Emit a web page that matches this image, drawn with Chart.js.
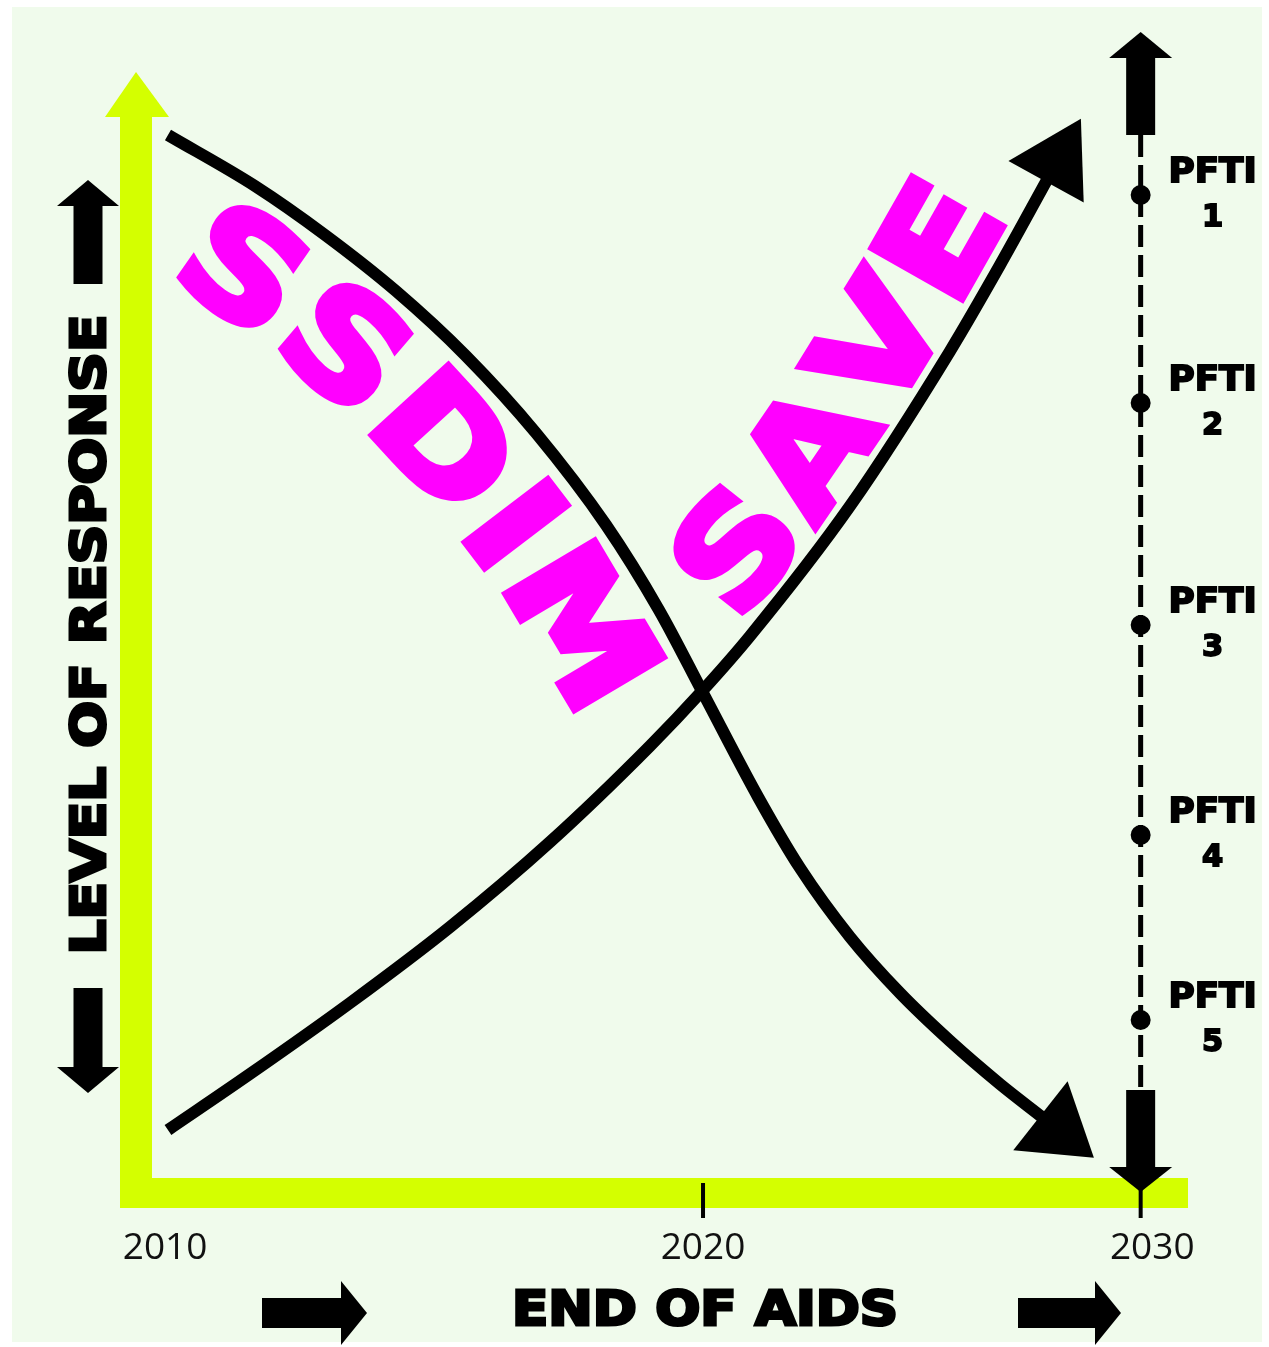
<!DOCTYPE html>
<html>
<head>
<meta charset="utf-8">
<script src="https://cdn.jsdelivr.net/npm/chart.js@4"></script>
<style>
html, body { margin: 0; padding: 0; background: #fff; }
#wrap { width: 1269px; height: 1347px; }
</style>
</head>
<body>
<div id="wrap"><canvas id="chart"></canvas></div>
<script>
// x = position along the timeline (0-100), y = level of response (0-100)
const xTickPos = [2.76, 53.9, 96.6];
const xTickLabels = ['2010', '2020', '2030'];

const ssdimX = [3.04, 11.31, 17.97, 24.71, 31.37, 38.02, 44.68, 49.71, 53.90, 59.13, 63.12, 67.87, 72.62, 77.38, 82.13, 86.12];
const ssdimY = [94.38, 89.83, 85.46, 80.46, 74.67, 67.80, 59.59, 52.01, 44.60, 35.33, 28.99, 22.84, 17.84, 13.56, 9.72, 6.78];

const saveX = [3.04, 10.84, 20.34, 29.85, 39.35, 48.86, 53.90, 58.37, 67.87, 77.38, 82.13, 86.60];
const saveY = [5.62, 10.62, 16.95, 23.73, 31.31, 39.88, 44.87, 49.69, 61.28, 75.11, 82.78, 90.37];

const pftiX = 95.5;
const pftiY = [89.03, 70.47, 50.67, 31.94, 15.43];
const pftiNames = ['1', '2', '3', '4', '5'];

const GREEN = '#d4ff00';
const MAGENTA = '#ff00ff';
const INK = '#000';

function tri(ctx, p) {
  ctx.beginPath();
  ctx.moveTo(p[0], p[1]); ctx.lineTo(p[2], p[3]); ctx.lineTo(p[4], p[5]);
  ctx.closePath(); ctx.fill();
}
// block arrow pointing up or down
function vArrow(ctx, cx, y0, y1, bw, hw, hl) {
  const dir = Math.sign(y1 - y0);
  const yb = y1 - dir * hl;
  ctx.fillRect(cx - bw, Math.min(y0, yb + dir), 2 * bw, Math.abs(yb - y0) + 1);
  tri(ctx, [cx - hw, yb, cx + hw, yb, cx, y1]);
}
// block arrow pointing right
function hArrow(ctx, cy, x0, x1, bh, hh, hl) {
  const xb = x1 - hl;
  ctx.fillRect(x0, cy - bh, xb - x0 + 1, 2 * bh);
  tri(ctx, [xb, cy - hh, xb, cy + hh, x1, cy]);
}
// heavy text stretched to a given width, centred on cx,cy
function fitText(ctx, str, cx, cy, width, cap, angle, weight) {
  const lw = weight || 0;
  const size = (cap - lw) / 0.729;
  ctx.save();
  ctx.font = 'bold ' + size + 'px "DejaVu Sans"';
  const w = ctx.measureText(str).width;
  ctx.translate(cx, cy);
  ctx.rotate(angle || 0);
  if (width) ctx.scale((width - lw) / w, 1);
  ctx.textAlign = 'center';
  ctx.textBaseline = 'alphabetic';
  ctx.fillText(str, 0, (cap - lw) / 2);
  if (lw) {
    ctx.lineWidth = lw;
    ctx.lineJoin = 'miter';
    ctx.miterLimit = 2;
    ctx.strokeStyle = ctx.fillStyle;
    ctx.strokeText(str, 0, (cap - lw) / 2);
  }
  ctx.restore();
}

function sampleCurve(pts) {
  const out = [];
  for (let i = 0; i < pts.length - 1; i++) {
    const p0 = pts[i], p1 = pts[i + 1];
    const c1x = p0.cp2x ?? p0.x, c1y = p0.cp2y ?? p0.y;
    const c2x = p1.cp1x ?? p1.x, c2y = p1.cp1y ?? p1.y;
    for (let k = 0; k < 24; k++) {
      const t = k / 24, u = 1 - t;
      out.push({
        x: u*u*u*p0.x + 3*u*u*t*c1x + 3*u*t*t*c2x + t*t*t*p1.x,
        y: u*u*u*p0.y + 3*u*u*t*c1y + 3*u*t*t*c2y + t*t*t*p1.y
      });
    }
  }
  const l = pts[pts.length - 1];
  out.push({x: l.x, y: l.y});
  return out;
}

// letters set along a curve, offset to one side of it
function wordOnCurve(ctx, pts, word, o) {
  const c = sampleCurve(pts);
  const path = [];
  for (let i = 0; i < c.length; i++) {
    const a = c[Math.max(0, i - 1)], b = c[Math.min(c.length - 1, i + 1)];
    const ang = Math.atan2(b.y - a.y, b.x - a.x);
    path.push({
      x: c[i].x - o.side * o.offset * Math.sin(ang),
      y: c[i].y + o.side * o.offset * Math.cos(ang),
      ang: ang
    });
  }
  const s = [0];
  for (let i = 1; i < path.length; i++) {
    s.push(s[i - 1] + Math.hypot(path[i].x - path[i - 1].x, path[i].y - path[i - 1].y));
  }
  ctx.save();
  ctx.font = 'bold ' + o.size + 'px "DejaVu Sans"';
  ctx.fillStyle = o.color;
  ctx.strokeStyle = o.color;
  ctx.lineWidth = o.weight;
  ctx.lineJoin = 'miter';
  ctx.miterLimit = 2;
  ctx.textAlign = 'center';
  ctx.textBaseline = 'alphabetic';
  const cap = o.size * 0.729;
  let cur = o.start;
  for (const ch of word) {
    const w = ctx.measureText(ch).width * o.stretch;
    const sc = cur + w / 2;
    let j = 1;
    while (j < s.length - 1 && s[j] < sc) j++;
    const f = (sc - s[j - 1]) / ((s[j] - s[j - 1]) || 1);
    const p = path[j - 1], q = path[j];
    ctx.save();
    ctx.translate(p.x + f * (q.x - p.x), p.y + f * (q.y - p.y));
    ctx.rotate(p.ang + f * (q.ang - p.ang));
    ctx.scale(o.stretch, 1);
    ctx.fillText(ch, 0, cap / 2);
    ctx.strokeText(ch, 0, cap / 2);
    ctx.restore();
    cur += w + o.spacing;
  }
  ctx.restore();
}

function arrowHead(ctx, pts, len, half) {
  const l = pts[pts.length - 1];
  let bx = l.cp1x ?? pts[pts.length - 2].x, by = l.cp1y ?? pts[pts.length - 2].y;
  let dx = l.x - bx, dy = l.y - by;
  const d = Math.hypot(dx, dy); dx /= d; dy /= d;
  const x0 = l.x - 2 * dx, y0 = l.y - 2 * dy;
  ctx.fillStyle = INK;
  tri(ctx, [x0 - half * dy, y0 + half * dx, x0 + half * dy, y0 - half * dx, l.x + len * dx, l.y + len * dy]);
}

const decor = {
  id: 'decor',
  beforeDraw(chart) {
    const ctx = chart.ctx;
    ctx.save();
    ctx.fillStyle = '#fff';
    ctx.fillRect(0, 0, chart.width, chart.height);
    ctx.fillStyle = '#f0fbec';
    ctx.fillRect(12, 7, chart.width - 19, chart.height - 12);
    ctx.restore();
  },
  beforeDatasetsDraw(chart) {
    const {ctx, chartArea: a, scales: {x, y}} = chart;
    ctx.save();
    // axes
    ctx.fillStyle = GREEN;
    ctx.fillRect(a.left - 16, a.top + 44, 32, a.bottom + 15 - (a.top + 44));
    tri(ctx, [a.left - 31, a.top + 45, a.left + 33, a.top + 45, a.left, a.top]);
    ctx.fillRect(a.left - 16, a.bottom - 15, a.right - a.left + 16, 30);
    // tick marks at 2020 and on the PFTI line
    ctx.fillStyle = INK;
    const px = x.getPixelForValue(pftiX);
    [x.getPixelForValue(xTickPos[1]), px].forEach(t => ctx.fillRect(t - 2, a.bottom - 10, 4, 35));
    // PFTI timeline
    ctx.strokeStyle = INK;
    ctx.lineWidth = 5;
    ctx.setLineDash([22, 8]);
    ctx.beginPath();
    ctx.moveTo(px, a.top + 63);
    ctx.lineTo(px, a.bottom - 103);
    ctx.stroke();
    ctx.setLineDash([]);
    vArrow(ctx, px, a.top + 63, a.top - 40, 14.5, 31.5, 26);
    vArrow(ctx, px, a.bottom - 103, a.bottom - 1, 14.5, 31.5, 25);
    ctx.restore();
  },
  afterDatasetsDraw(chart) {
    const {ctx, chartArea: a, scales: {x, y}} = chart;
    const ss = chart.getDatasetMeta(0).data;
    const sv = chart.getDatasetMeta(1).data;
    ctx.save();
    arrowHead(ctx, ss, 66, 44);
    arrowHead(ctx, sv, 70, 43);

    wordOnCurve(ctx, ss, 'SSDIM', {side: 1, offset: 72, size: 142, stretch: 1.16, start: 74, spacing: 10, weight: 7, color: MAGENTA});
    wordOnCurve(ctx, sv, 'SAVE', {side: -1, offset: 68, size: 142, stretch: 1.12, start: 748, spacing: 4, weight: 7, color: MAGENTA});

    ctx.fillStyle = INK;
    // PFTI labels
    const px = x.getPixelForValue(pftiX);
    pftiY.forEach((v, i) => {
      const py = y.getPixelForValue(v);
      fitText(ctx, 'PFTI', px + 72, py - 25, 90, 26, 0, 1.8);
      fitText(ctx, pftiNames[i], px + 72, py + 20, null, 24, 0, 1.8);
    });

    // y title with arrows
    const cx = a.left - 48;
    fitText(ctx, 'LEVEL OF RESPONSE', cx - 1, (a.top + a.bottom) / 2 + 2, 643, 38, -Math.PI / 2, 3);
    vArrow(ctx, cx, a.top + 212, a.top + 108, 14.5, 31, 26);
    vArrow(ctx, cx, a.bottom - 205, a.bottom - 100, 14.5, 31, 26);

    // x title with arrows
    const mid = x.getPixelForValue(xTickPos[1]);
    fitText(ctx, 'END OF AIDS', mid + 2, a.bottom + 114, 389, 38, 0, 3);
    hArrow(ctx, a.bottom + 120, a.left + 126, a.left + 231, 15, 32, 26);
    hArrow(ctx, a.bottom + 120, a.right - 170, a.right - 67, 15, 32, 26);
    ctx.restore();
  }
};

const curveStyle = {
  borderColor: INK,
  borderWidth: 12,
  pointRadius: 0,
  fill: false,
  cubicInterpolationMode: 'monotone',
  borderCapStyle: 'butt'
};

new Chart(document.getElementById('chart'), {
  type: 'line',
  data: {
    datasets: [
      Object.assign({label: 'SSDIM', data: ssdimX.map((v, i) => ({x: v, y: ssdimY[i]}))}, curveStyle),
      Object.assign({label: 'SAVE', data: saveX.map((v, i) => ({x: v, y: saveY[i]}))}, curveStyle),
      {
        label: 'PFTI',
        type: 'scatter',
        data: pftiY.map(v => ({x: pftiX, y: v})),
        pointRadius: 10,
        pointBackgroundColor: INK,
        pointBorderWidth: 0,
        showLine: false
      }
    ]
  },
  options: {
    responsive: true,
    maintainAspectRatio: false,
    animation: false,
    events: [],
    layout: {padding: {left: 136, right: 81, top: 72, bottom: 43.6}},
    plugins: {legend: {display: false}, tooltip: {enabled: false}},
    scales: {
      x: {
        type: 'linear', min: 0, max: 100,
        grid: {display: false, drawTicks: false},
        border: {display: false},
        afterBuildTicks: axis => { axis.ticks = xTickPos.map(v => ({value: v})); },
        ticks: {
          autoSkip: false, maxRotation: 0, padding: 33, color: '#111',
          font: {family: '"Open Sans"', size: 37},
          callback: (v, i) => xTickLabels[i]
        }
      },
      y: {type: 'linear', display: false, min: 0, max: 100}
    }
  },
  plugins: [decor]
});
</script>
</body>
</html>
